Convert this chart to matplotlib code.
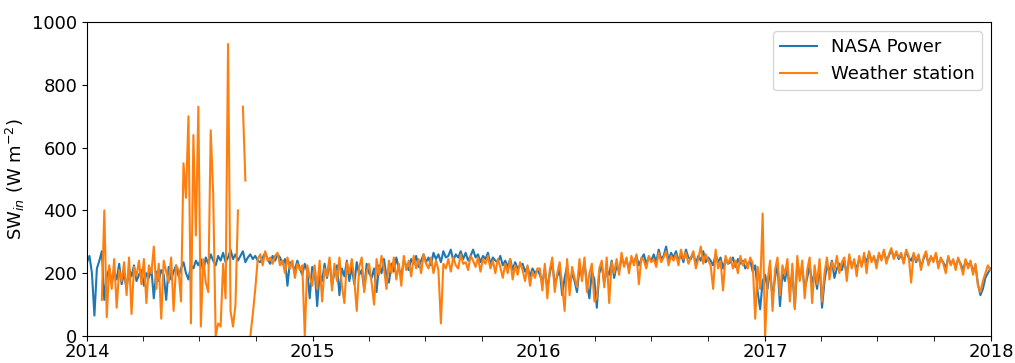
import numpy as np
import pandas as pd
import matplotlib
matplotlib.use("Agg")
import matplotlib.pyplot as plt
import matplotlib.dates as mdates

nan = np.nan
start_date = "2014-01-01"
step = "4D"

nasa_2014 = [235, 255, 200, 65, 215, 240, 270, 115,
             190, 215, 170, 205, 180, 230, 165,
             200, 150, 215, 190, 225, 175, 195, 210,
             160, 200, 185, 215, 120, 205, 175,
             210, 195, 115, 220, 180, 205, 225, 190,
             215, 235, 200, 180, 225, 215, 240,
             225, 245, 205, 250, 230, 260, 240, 225,
             255, 240, 265, 235, 250, 275, 245,
             260, 240, 255, 270, 235, 250, 260, 245,
             255, 240, 235, 250, 265, 245, 230, 255,
             240, 260, 250, 230, 245, 160, 235,
             225, 210, 240, 215, 195, 230, 205, 120, 220]
ws_2014 = [nan, nan, nan, nan, nan, nan, 115, 400,
           60, 225, 150, 245, 90, 210, 175,
           235, 130, 250, 70, 220, 190, 240, 165,
           245, 105, 225, 200, 285, 150, 230,
           55, 240, 205, 170, 250, 80, 225, 210,
           110, 550, 440, 700, 40, 640, 320,
           730, 30, 245, 170, 140, 655, 450, 0,
           40, 30, 230, 120, 930, 80, 30,
           100, 400, nan, 730, 495, nan, 0, 70,
           150, 245, 260, 225, 270, 240, 250, 230,
           255, 265, 225, 240, 200, 250, 215,
           240, 185, 230, 210, 225, 0, 225, 190, 160]

nasa_2015 = [210, 95, 200, 175, 230, 185, 240, 160,
             205, 225, 130, 215, 190, 240, 175,
             220, 165, 235, 195, 210, 150, 230, 200,
             185, 215, 140, 225, 200, 245, 190, 170,
             230, 205, 250, 215, 190, 240, 225,
             210, 245, 230, 255, 220, 240, 260, 235,
             250, 225, 265, 245, 260, 235, 270, 250,
             255, 275, 240, 260, 250, 270, 245,
             265, 240, 255, 275, 250, 260, 235, 255,
             245, 265, 230, 250, 240, 235, 255, 225,
             240, 220, 245, 210, 235, 215, 225,
             230, 205, 220, 190, 215, 200, 210]
ws_2015 = [225, 150, 240, 110, 215, 190, 250, 145,
           230, 175, 250, 160, 105, 235, 200,
           245, 180, 80, 220, 250, 140, 205, 230,
           170, 100, 245, 195, 255, 215, 150, 240,
           200, 250, 180, 230, 160, 255, 210,
           240, 190, 255, 215, 245, 200, 260, 230,
           215, 250, 200, 240, 210, 40, 230, 215,
           245, 205, 250, 225, 215, 260, 230,
           235, 210, 255, 240, 220, 250, 205, 245,
           230, 255, 215, 240, 200, 245, 220, 185,
           230, 200, 245, 180, 225, 195, 235,
           210, 175, 225, 160, 205, 185, 215]

nasa_2016 = [195, 170, 215, 150, 200, 235, 165, 190,
             210, 130, 185, 225, 160, 200, 175,
             140, 215, 190, 235, 165, 120, 205, 180,
             90, 200, 225, 170, 210, 195, 240, 185,
             225, 205, 250, 230, 240, 215, 245,
             235, 255, 225, 245, 260, 230, 250, 240,
             260, 235, 275, 245, 255, 285, 240, 265,
             250, 270, 240, 260, 235, 275, 250,
             245, 265, 230, 255, 240, 270, 235, 250,
             240, 225, 260, 235, 250, 215, 245, 230,
             235, 250, 220, 245, 230, 240, 215,
             230, 240, 205, 225, 140, 85, 175]
ws_2016 = [215, 145, 230, 120, 210, 250, 140, 200,
           235, 160, 80, 245, 130, 220, 185,
           155, 245, 175, 250, 140, 200, 230, 110,
           120, 215, 240, 155, 250, 105, 235, 200,
           245, 195, 265, 220, 250, 200, 255,
           225, 260, 165, 250, 240, 215, 255, 235,
           245, 220, 265, 235, 250, 270, 225, 255,
           240, 260, 225, 275, 245, 265, 230,
           250, 270, 215, 245, 285, 230, 260, 240,
           225, 150, 275, 215, 240, 145, 255, 230,
           250, 215, 240, 200, 255, 225, 245,
           215, 250, 230, 55, 220, 150, 390]

nasa_2017 = [195, 150, 215, 120, 185, 230, 95, 200,
             175, 220, 140, 205, 90, 235, 190,
             215, 150, 185, 225, 170, 200, 150, 230,
             90, 175, 225, 205, 240, 185, 215, 230,
             210, 240, 195, 250, 225, 235, 215,
             245, 225, 255, 235, 265, 240, 250, 230,
             260, 245, 270, 240, 255, 275, 250, 265,
             245, 260, 235, 270, 250, 240, 260,
             235, 255, 220, 245, 265, 230, 250, 240,
             260, 225, 245, 235, 215, 250, 230, 240,
             220, 245, 230, 210, 240, 225, 235,
             205, 225, 165, 130, 150, 185, 200, 215]
ws_2017 = [0, 175, 240, 80, 210, 250, 130, 225,
           195, 245, 110, 230, 85, 255, 175,
           240, 120, 210, 250, 105, 225, 165, 245,
           110, 200, 250, 180, 235, 210, 255, 200,
           235, 250, 175, 260, 215, 245, 190,
           255, 220, 265, 200, 270, 235, 255, 215,
           265, 240, 275, 230, 260, 280, 245, 270,
           250, 265, 230, 275, 255, 170, 265,
           240, 260, 210, 250, 270, 225, 255, 235,
           265, 215, 250, 230, 200, 255, 225, 245,
           210, 250, 225, 195, 245, 215, 240,
           195, 230, 160, 140, 175, 200, 225, 210]

nasa = nasa_2014 + nasa_2015 + nasa_2016 + nasa_2017
ws = ws_2014 + ws_2015 + ws_2016 + ws_2017
dates = pd.date_range(start_date, periods=len(nasa), freq=step)

plt.rcParams["font.size"] = 13
fig = plt.figure(figsize=(10.15, 3.63), dpi=100)
ax = fig.add_axes([0.0857, 0.0744, 0.8906, 0.8650])
ax.plot(dates, nasa, color="tab:blue", lw=1.5, label="NASA Power")
ax.plot(dates, ws, color="tab:orange", lw=1.5, label="Weather station")

ax.set_xlim(pd.Timestamp("2014-01-01"), pd.Timestamp("2018-01-01"))
ax.set_ylim(0, 1000)
ax.set_yticks([0, 200, 400, 600, 800, 1000])
ax.xaxis.set_major_locator(mdates.YearLocator())
ax.xaxis.set_major_formatter(mdates.DateFormatter("%Y"))
ax.xaxis.set_minor_locator(mdates.MonthLocator(bymonth=[4, 7, 10]))
ax.tick_params(axis="x", which="major", pad=1.5)
ax.tick_params(axis="x", which="minor", length=3.5)
ax.set_ylabel(r"SW$_{in}$ (W m$^{-2}$)", labelpad=4)
ax.legend(loc="upper right")

fig.savefig("out.png", dpi=100)
